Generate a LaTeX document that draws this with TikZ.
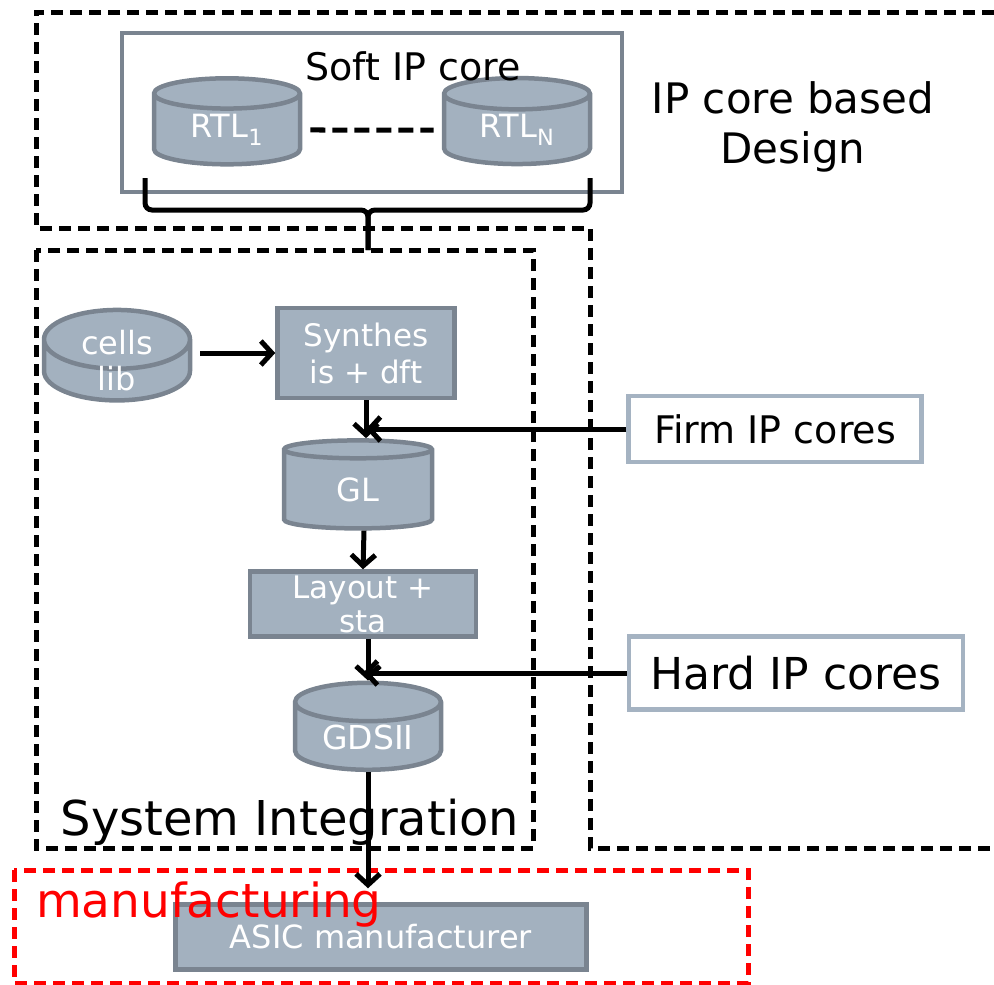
\documentclass[tikz,border=0pt]{standalone}
\usepackage{fontspec}
\setmainfont{DejaVu Sans}
\usetikzlibrary{shapes.geometric,arrows.meta,positioning}
\definecolor{nodefill}{HTML}{A3B1BF}
\definecolor{nodeline}{HTML}{7A8490}
\definecolor{ipline}{HTML}{A5B3C2}
\definecolor{mfgred}{HTML}{FF0000}

\begin{document}
\begin{tikzpicture}[x=1pt,y=-1pt,
	 db/.style={cylinder, shape border rotate=90, aspect=0.42, draw=nodeline,
	   fill=nodefill, line width=4.5pt, minimum width=146pt, minimum height=86pt,
	   text=white, align=center, inner sep=0pt, font=\fontsize{32}{36}\selectfont},
	 stepbox/.style={rectangle, draw=nodeline, fill=nodefill, line width=4.5pt,
	   text=white, align=center, inner sep=0pt, font=\fontsize{31}{37}\selectfont},
	 ipbox/.style={rectangle, draw=ipline, line width=4.5pt, inner sep=0pt},
	 region/.style={line width=5pt, dash pattern=on 12pt off 7pt},
	 arr/.style={line width=5pt, -{Straight Barb[length=11pt,width=24pt,line width=5pt]}}]
	 \useasboundingbox (0,0) rectangle (994,985);
	 %%% IP core based design
	 \draw[region] (994,12) -- (36,12) -- (36,228) -- (590,228) -- (590,848) -- (994,848);
	 \node[draw=nodeline, line width=4.5pt, minimum width=500pt, minimum height=159pt] (softip) at (372,112.5) {};
	 \node[db] (rtl1) at (227,130) {RTL\textsubscript{1}};
	 \node[db] (rtln) at (517,130) {RTL\textsubscript{N}};
	 \draw[region, dash pattern=on 15pt off 7pt, shorten <=8pt, shorten >=8pt] (rtl1) -- (rtln);
	 \node[font=\fontsize{38}{44}\selectfont, anchor=base] (softlabel) at (413,80) {Soft IP core};
	 \node[font=\fontsize{42}{50}\selectfont, align=center, anchor=base] (design) at (793,163) {IP core based\\Design};
	 % brace
	 \coordinate (bracetip) at (368,250);
	 \draw[line width=5pt, rounded corners=7pt] (145,178) -- (145,210) -- (368,210) -- (bracetip);
	 \draw[line width=5pt, rounded corners=7pt] (590,178) -- (590,210) -- (368,210) -- (bracetip);
	 %%% system integration
	 \draw[region] (36,250) rectangle (533,848);
	 \node[db, minimum height=88pt] (cells) at (117,371) {\smash{\raisebox{17pt}{\parbox[t]{140pt}{\centering cells\\lib}}}};
	 \node[stepbox, minimum width=177pt, minimum height=90pt] (synth) at (366,353) {Synthes\\is + dft};
	 \node[db, minimum width=148pt, minimum height=88pt] (gl) at (358,490) {GL};
	 \node[stepbox, minimum width=226pt, minimum height=65pt, font=\fontsize{31}{34}\selectfont] (layout) at (363,604) {Layout +\\sta};
	 \node[db, minimum height=87pt, font=\fontsize{33}{36}\selectfont] (gds) at (368,737) {GDSII};
	 \node[ipbox, minimum width=293pt, minimum height=66pt, font=\fontsize{38}{44}\selectfont] (firm) at (775,429) {Firm IP cores};
	 \node[ipbox, minimum width=334pt, minimum height=73pt, font=\fontsize{44}{50}\selectfont] (hard) at (796,673) {Hard IP cores};
	 \node[font=\fontsize{48}{54}\selectfont, anchor=base] (syslabel) at (290,835) {System Integration};
	 %%% manufacturing
	 \draw[region, draw=mfgred] (14,870) rectangle (748,983);
	 \node[stepbox, minimum width=411pt, minimum height=65pt, font=\fontsize{32}{36}\selectfont] (asic) at (381,937) {ASIC manufacturer};
	 \node[text=mfgred, font=\fontsize{47}{52}\selectfont, anchor=base west, inner sep=0pt] (mfglabel) at (36,917) {manufacturing};
	 %%% flow
	 \draw[arr, shorten <=8pt] (cells.east |- synth) -- (synth);
	 \draw[arr] (synth.south) -- (synth.south |- gl.north);
	 \draw[arr] (firm.west) -- (firm.west -| synth.south);
	 \draw[arr] (gl.south) ++(6,0) -- (layout.north);
	 \draw[arr] (hard.west) -- (hard.west -| layout.south);
	 \draw[arr] (layout.south) ++(5,0) -- (gds.north);
	 \draw[arr, shorten >=14pt] (gds.south) -- (gds.south |- asic.north);
      \end{tikzpicture}
\end{document}
